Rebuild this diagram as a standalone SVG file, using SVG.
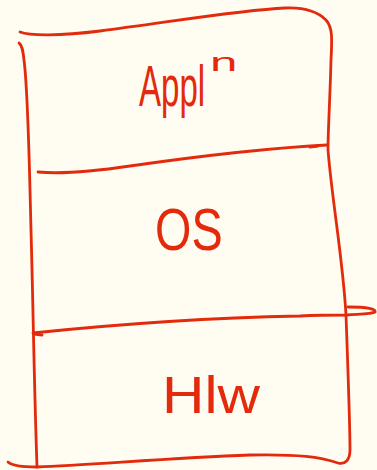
<svg xmlns="http://www.w3.org/2000/svg" width="377" height="470" viewBox="0 0 377 470">
<style>
.ink{fill:none;stroke:#e32a0c;stroke-width:2.8;stroke-linecap:round;stroke-linejoin:round}
.lbl{fill:#e32a0c;font-family:"Liberation Sans",Arial,sans-serif;font-weight:normal}
</style>
<rect width="377" height="470" fill="#fffdf2"/>
<g id="frame">
<path class="ink" d="M20,32 C30,36 60,36 100,31 C170,22 240,10 285,8 C305,7 318,12 326,20 C333,28 332,40 331,60 C330,100 328,130 328,150 C332,200 343,260 346,315 C348,370 350,430 350,450 C350,460 345,465 338,463 C320,457 300,454 250,455 C170,458 90,465 37,467 C25,467 12,466 8,462"/>
<path class="ink" d="M19,43 C22,45 23,50 24,60 C28,90 29,150 31,230 C33,300 34,380 37,467"/>
</g>
<g id="dividers">
<path class="ink" d="M38,172 C60,174 90,172 130,166 C200,156 270,148 327,145"/>
<path class="ink" d="M310,147 L318,146"/>
<path class="ink" d="M33,333 C100,326 200,318 300,316 C320,315 335,315 347,315 C360,314 372,314 375,312 C376,309 368,307 348,307"/>
<path class="ink" d="M34,334 L42,335"/>
</g>
<g id="app-layer">
<text class="lbl" font-size="58" transform="translate(139,106) scale(0.57,1)">Appl</text>
<text class="lbl" font-size="26" transform="translate(210,71) scale(1.9,1)">n</text>
</g>
<g id="os-layer">
<text class="lbl" font-size="60" transform="translate(155,250) scale(0.78,1)">OS</text>
</g>
<g id="hw-layer">
<text class="lbl" font-size="52" transform="translate(162,413) scale(1.13,1)">Hlw</text>
</g>
</svg>
